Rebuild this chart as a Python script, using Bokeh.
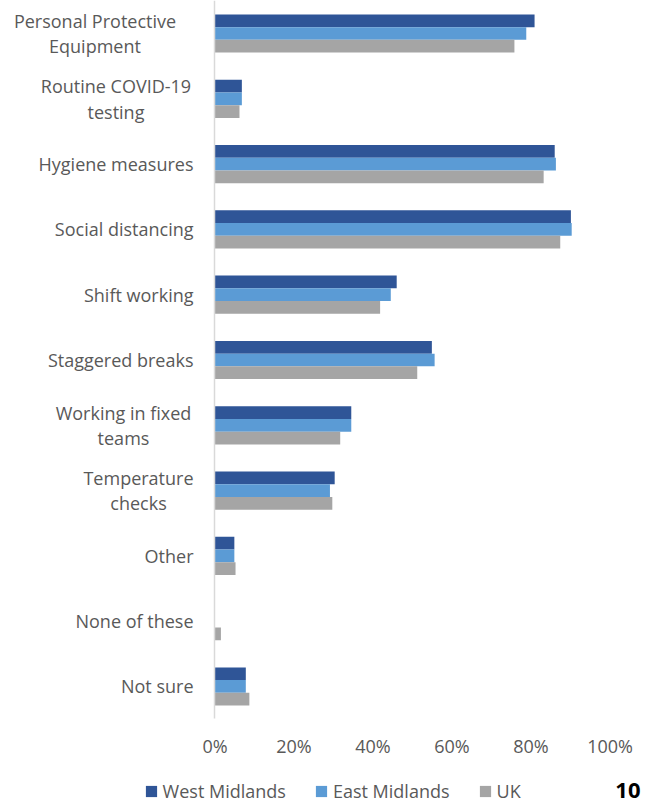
from bokeh.plotting import figure
from bokeh.models import (ColumnDataSource, Range1d, FixedTicker, PrintfTickFormatter,
                          Legend, LegendItem, Label)
from bokeh.transform import dodge
from bokeh.core.properties import value
from bokeh.embed import file_html
from bokeh.resources import INLINE

# ---------------- data ----------------
categories = ["Personal Protective\nEquipment", "Routine COVID-19\ntesting", "Hygiene measures",
              "Social distancing", "Shift working", "Staggered breaks", "Working in fixed\nteams",
              "Temperature\nchecks", "Other", "None of these", "Not sure"]
west_midlands = [80.9, 6.8, 86.0, 90.1, 46.0, 54.9, 34.5, 30.3, 4.9, 0.0, 7.8]
east_midlands = [78.8, 6.8, 86.3, 90.3, 44.5, 55.6, 34.5, 29.1, 4.9, 0.0, 7.8]
uk = [75.8, 6.2, 83.2, 87.4, 41.8, 51.2, 31.7, 29.7, 5.2, 1.5, 8.7]
series_names = ["West Midlands", "East Midlands", "UK"]
x_ticks = [0, 20, 40, 60, 80, 100]
page_number = "10"

# ---------------- styles / layout ----------------
colors = ["#2F5597", "#5B9BD5", "#A5A5A5"]
text_color = "#595959"
font = "Open Sans"
font_size = "18px"
label_x_offsets = [-120, -99, -21.5, -21.5, -21.5, -21.5, -91.5, -76.5, -21.5, -21.5, -21.5]
label_aligns = ["center", "center", "right", "right", "right", "right",
                "center", "center", "right", "right", "right"]
bar_h = 0.195
y_top, y_axis_pos, y_bottom = -0.5054, 10.490, 11.792

idx = list(range(len(categories)))
src = ColumnDataSource(dict(y=idx, wm=west_midlands, em=east_midlands, uk=uk))
lab_src = ColumnDataSource(dict(y=idx, label=categories, xoff=label_x_offsets, align=label_aligns))

p = figure(width=647, height=803, output_backend="svg", toolbar_location=None,
           x_range=Range1d(-54.30, 109.49), y_range=Range1d(y_bottom, y_top),
           min_border=0)

renderers = []
for col, off, c in zip(["wm", "em", "uk"], [-bar_h, 0, bar_h], colors):
    r = p.hbar(y=dodge("y", off, range=p.y_range), left=0, right=col, height=bar_h,
               source=src, fill_color=c, line_color=None)
    renderers.append(r)

p.text(x=0, y="y", text="label", x_offset="xoff", text_align="align", text_baseline="middle",
       text_font=value(font), text_font_size=font_size, text_color=text_color,
       text_line_height=1.06, source=lab_src)

p.xgrid.visible = False
p.ygrid.visible = False
p.outline_line_color = None

# vertical category axis: a plain light-grey line at 0%
yax = p.yaxis[0]
yax.fixed_location = 0
yax.bounds = (y_top, y_axis_pos)
yax.ticker = FixedTicker(ticks=[])
yax.axis_line_color = "#D9D9D9"
yax.axis_line_width = 1.5
yax.major_tick_line_color = None
yax.minor_tick_line_color = None

# percentage axis
ax = p.xaxis[0]
ax.fixed_location = y_axis_pos
ax.ticker = FixedTicker(ticks=x_ticks)
ax.formatter = PrintfTickFormatter(format="%d%%")
ax.axis_line_color = None
ax.major_tick_line_color = None
ax.minor_tick_line_color = None
ax.major_tick_out = 0
ax.major_tick_in = 0
ax.major_label_standoff = 16
ax.major_label_text_font = font
ax.major_label_text_font_size = font_size
ax.major_label_text_color = text_color

legend = Legend(items=[LegendItem(label=n, renderers=[r]) for n, r in zip(series_names, renderers)],
                orientation="horizontal", location=(143.6, 0),
                glyph_width=14, glyph_height=14, label_standoff=5, spacing=28,
                padding=0, margin=0, border_line_color=None, background_fill_alpha=0,
                label_text_font=font, label_text_font_size=font_size, label_text_color=text_color)
p.add_layout(legend)

p.add_layout(Label(x=640, y=6, x_units="screen", y_units="screen", text=page_number,
                   text_align="right", text_baseline="bottom", text_font=font,
                   text_font_style="bold", text_font_size="22px", text_color="black"))

open("out.html", "w").write(file_html(p, INLINE))
